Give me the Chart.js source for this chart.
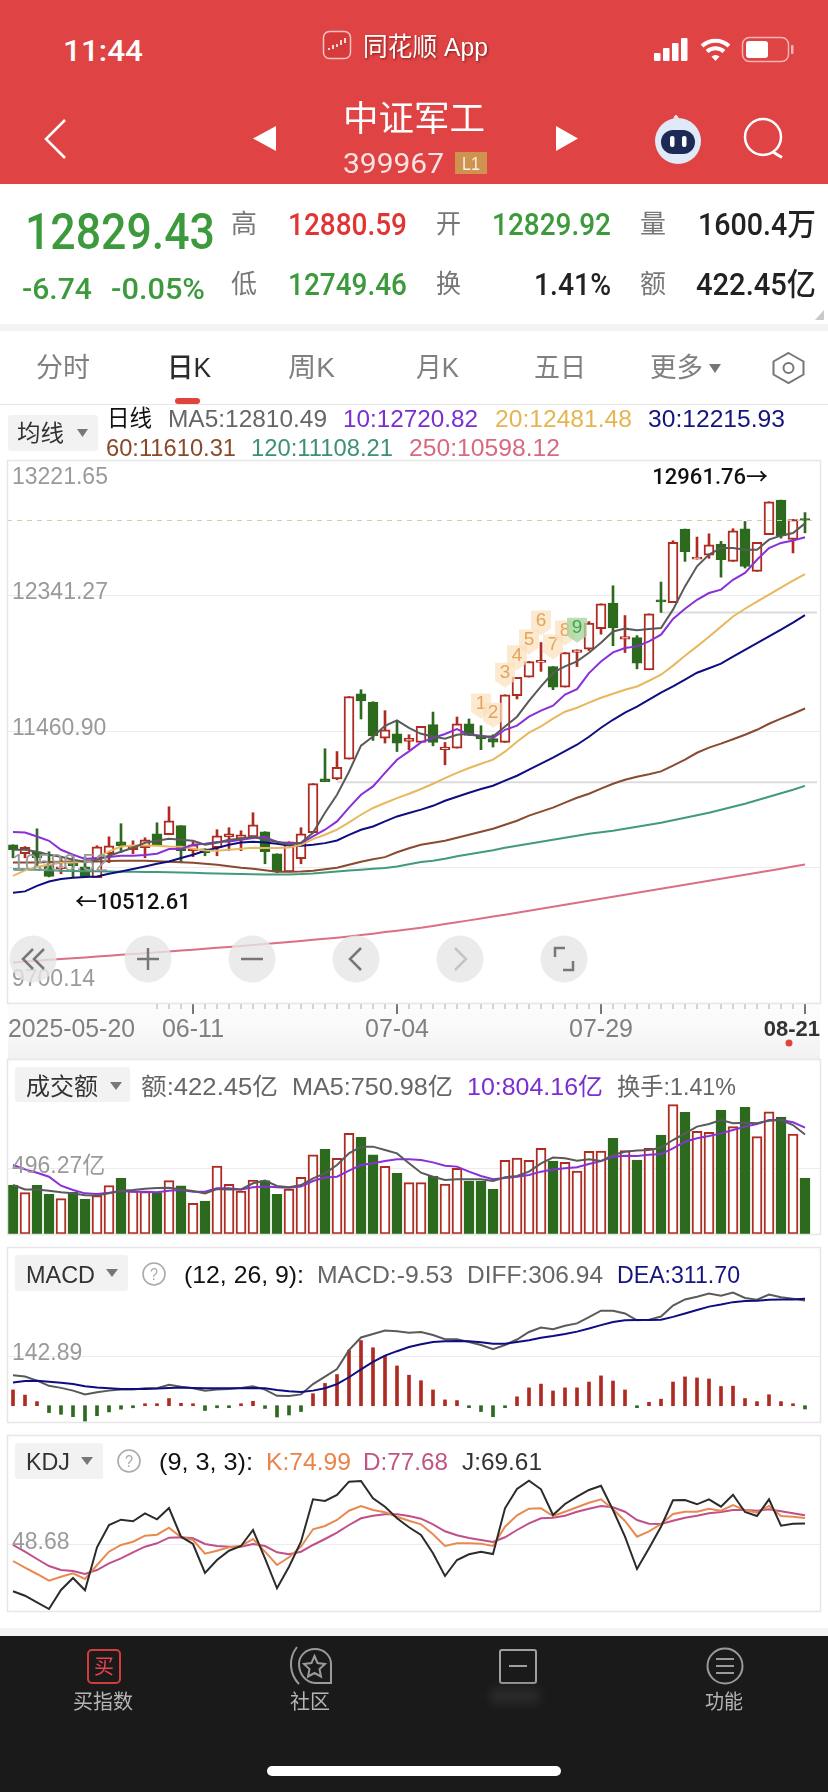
<!DOCTYPE html>
<html lang="zh-CN">
<head>
<meta charset="utf-8">
<title>中证军工</title>
<script src="https://cdn.jsdelivr.net/npm/chart.js"></script>
<style>
  html, body { margin: 0; padding: 0; background: #fff; }
  body { position: relative; width: 828px; height: 1792px; overflow: hidden; }
  .pane { position: absolute; left: 0; width: 821px; overflow: hidden; }
  canvas { display: block; }
  #band { position: absolute; left: 8px; top: 1003px; width: 812px; height: 56px;
          background: linear-gradient(#fcfcfc, #fafafa 40%, #f1f1f1); }
  #ui { position: absolute; left: 0; top: 0; }
</style>
</head>
<body>
<div id="band"></div>
<div class="pane" style="top:460px;height:590px"><canvas id="mainChart" width="823" height="590"></canvas></div>
<div class="pane" style="top:1059px;height:175px"><canvas id="volChart" width="823" height="175"></canvas></div>
<div class="pane" style="top:1247px;height:175px"><canvas id="macdChart" width="823" height="175"></canvas></div>
<div class="pane" style="top:1435px;height:176px"><canvas id="kdjChart" width="823" height="176"></canvas></div>
<svg id="ui" width="828" height="1792" xmlns="http://www.w3.org/2000/svg"></svg>
<script>
// 日期 (trading days)
const categories = ['2025-05-20','05-21','05-22','05-23','05-26','05-27','05-28','05-29','05-30',
  '06-03','06-04','06-05','06-06','06-09','06-10','06-11','06-12','06-13','06-16','06-17','06-18','06-19','06-20',
  '06-23','06-24','06-25','06-26','06-27','06-30','07-01','07-02','07-03','07-04','07-07','07-08','07-09','07-10','07-11',
  '07-14','07-15','07-16','07-17','07-18','07-21','07-22','07-23','07-24','07-25','07-28','07-29','07-30','07-31','08-01',
  '08-04','08-05','08-06','08-07','08-08','08-11','08-12','08-13','08-14','08-15','08-18','08-19','08-20','08-21',''];
const shownDates = ['2025-05-20','06-11','07-04','07-29','08-21'];

const opens = [10726,10668,10681,10597,10571,10610,10584,10513,10668,10746,
  10694,10707,10798,10791,10850,10688,10700,10707,10778,10765,
  10778,10811,10668,10551,10636,10804,11154,11154,11282,11706,
  11652,11418,11446,11396,11390,11505,11343,11353,11511,11433,
  11415,11390,11693,11814,11909,11882,11749,11973,11995,12127,
  12294,12060,12070,11861,12315,12297,12774,12579,12605,12677,
  12564,12776,12499,12737,12961,12706,12829.92];
const highs = [10726,10715,10830,10681,10649,10655,10649,10720,10778,10863,
  10752,10772,10869,10973,10850,10746,10700,10824,10837,10817,
  10934,10811,10668,10746,10837,11123,11349,11331,11688,11732,
  11654,11596,11533,11440,11494,11587,11390,11555,11542,11498,
  11440,11699,11812,11915,12038,11882,11973,11991,12174,12289,
  12406,12213,12083,12224,12430,12698,12774,12722,12743,12694,
  12776,12823,12687,12951,12961.76,12836,12880.59];
const lows = [10642,10642,10584,10518,10538,10512.61,10519,10513,10610,10675,
  10668,10642,10726,10791,10610,10649,10655,10655,10688,10688,
  10778,10603,10545,10551,10603,10804,11135,11148,11282,11542,
  11403,11386,11331,11343,11390,11368,11245,11353,11435,11343,
  11360,11390,11672,11814,11851,11732,11749,11882,11986,12092,
  12017,11973,11867,11861,12233,12297,12564,12579,12584,12462,
  12564,12521,12499,12737,12715,12619,12749.46];
const closes = [10694,10709,10642,10521,10584,10590,10519,10713,10720,10720,
  10720,10759,10726,10882,10688,10726,10675,10785,10798,10791,
  10856,10681,10558,10746,10798,11123,11135,11228,11688,11660,
  11433,11472,11386,11418,11494,11390,11360,11511,11435,11413,
  11392,11699,11812,11915,11920,11749,11973,11991,12164,12289,
  12132,12077,11904,12224,12302,12687,12627,12592,12672,12575,
  12763,12531,12687,12951,12730,12836,12829.43];

const ma5 = [10694,10694,10681,10662,10649,10629,10616,10629,10655,10681,
  10707,10739,10752,10765,10759,10752,10726,10739,10759,10765,
  10778,10759,10746,10726,10739,10804,10934,11051,11200,11369,
  11429,11498,11533,11485,11446,11429,11414,11440,11446,11429,
  11429,11494,11557,11660,11753,11842,11883,11916,11972,12037,
  12110,12128,12117,12126,12132,12251,12402,12532,12608,12651,
  12651,12640,12640,12705,12731,12748,12810.49];
const ma10 = [10809,10806,10780,10752,10694,10662,10634,10640,10647,10655,
  10655,10660,10668,10699,10700,10726,10733,10744,10748,10759,
  10770,10776,10744,10737,10737,10780,10824,10878,10967,11051,
  11105,11193,11278,11332,11390,11419,11445,11477,11440,11433,
  11419,11472,11499,11557,11596,11628,11700,11736,11840,11915,
  11974,12002,12013,12045,12089,12191,12257,12315,12359,12381,
  12445,12489,12575,12651,12684,12699,12720.82];
const ma20 = [10525,10560,10584,10597,10610,10612,10618,10642,10683,10715,
  10722,10722,10720,10715,10713,10700,10689,10687,10694,10700,
  10707,10705,10705,10709,10726,10763,10791,10824,10871,10921,
  10965,10997,11029,11057,11088,11122,11159,11193,11224,11252,
  11278,11330,11395,11453,11494,11544,11589,11615,11648,11680,
  11706,11732,11753,11790,11829,11888,11952,12013,12076,12141,
  12207,12257,12303,12348,12394,12439,12481.48];
const ma30 = [10415,10424,10460,10488,10504,10512,10517,10521,10538,10553,
  10569,10586,10603,10618,10640,10662,10687,10705,10726,10741,
  10746,10741,10733,10722,10720,10726,10737,10754,10791,10824,
  10845,10878,10910,10932,10954,10979,11012,11038,11064,11088,
  11109,11142,11174,11213,11252,11291,11333,11375,11427,11485,
  11537,11583,11622,11667,11713,11753,11797,11842,11871,11901,
  11946,11991,12034,12078,12121,12167,12215.93];
const ma60 = [10612,10612,10612,10614,10616,10617,10618,10618,10621,10623,
  10623,10623,10620,10616,10613,10610,10603,10597,10587,10577,
  10571,10561,10551,10551,10553,10558,10568,10577,10597,10616,
  10632,10646,10678,10704,10726,10739,10752,10772,10791,10811,
  10830,10856,10882,10915,10941,10967,11000,11031,11057,11090,
  11122,11148,11168,11184,11202,11239,11278,11323,11356,11382,
  11411,11440,11472,11511,11544,11576,11610.31];
const ma120 = [10569,10567,10565,10561,10558,10557,10555,10554,10553,10551,
  10551,10550,10549,10548,10547,10545,10542,10540,10538,10536,
  10535,10534,10534,10534,10536,10540,10546,10553,10559,10565,
  10570,10575,10586,10600,10614,10623,10636,10652,10665,10678,
  10691,10707,10720,10733,10746,10759,10772,10785,10798,10808,
  10817,10830,10843,10856,10869,10885,10901,10918,10934,10953,
  10973,10992,11015,11038,11060,11083,11108.21];
const ma250 = [9963,9969,9974,9980,9985,9991,9996,10002,10007,10013,
  10018,10023,10029,10034,10040,10046,10052,10058,10064,10070,
  10076,10082,10089,10096,10103,10110,10117,10124,10132,10141,
  10150,10160,10169,10178,10188,10200,10212,10224,10236,10248,
  10261,10273,10285,10298,10311,10324,10337,10350,10363,10376,
  10389,10402,10415,10428,10441,10454,10467,10480,10493,10506,
  10519,10532,10545,10558,10571,10585,10598.12];

// 水平压力线 and 九转 markers
const levelValues = [11131, 12233];
const levelStarts = [27, 54];
const nineIndex = [39,40,41,42,43,44,45,46,47];
const nineLabels = ['1','2','3','4','5','6','7','8','9'];

const priceTicks = [13221.65, 12341.27, 11460.90, 10580.52, 9700.14];
const priceTickLabels = ['13221.65','12341.27','11460.90','10580.52','9700.14'];

// 成交额 (亿)
const amount = [370,312,368,300,267,315,264,290,365,420,
  327,320,312,403,363,232,249,514,375,325,
  408,403,300,340,428,599,640,572,760,730,
  599,511,458,388,388,438,378,496,400,400,
  337,556,574,556,647,551,541,476,624,627,
  723,630,559,647,748,977,919,776,768,934,
  811,957,735,922,884,755,422.45];
const amountMa5 = [370,337,337,327,315,307,292,290,307,327,
  332,342,347,350,337,325,307,340,337,337,
  383,403,363,353,370,420,458,521,609,660,
  660,635,609,534,463,433,408,413,413,413,
  400,428,438,471,534,577,572,554,564,551,
  597,622,630,635,652,710,760,811,831,861,
  836,841,836,856,861,823,750.98];
const amountMa10 = [521,488,463,433,365,332,307,302,312,325,
  320,320,315,327,332,320,320,345,345,337,
  353,358,353,350,358,400,426,433,478,521,
  534,551,564,564,559,541,516,509,471,438,
  413,423,433,446,471,488,496,504,529,551,
  584,592,589,599,604,647,697,723,740,760,
  786,811,831,861,861,844,804.16];

const macdBars = [46,31,12,-20,-25,-32,-45,-29,-18,-10,
  -6,4,3,21,7,1,-14,-6,-1,5,
  13,-8,-33,-27,-17,35,65,91,162,190,
  169,145,116,89,73,46,17,15,-1,-17,
  -32,-4,26,52,63,43,52,52,69,87,
  72,46,-1,10,19,69,84,81,78,56,
  57,21,12,32,12,4,-9.53];
const diffLine = [89,85,73,58,52,44,33,39,44,47,
  47,51,51,61,55,51,44,47,49,52,
  57,47,29,28,33,63,85,107,162,199,
  209,219,217,213,215,206,194,194,186,177,
  165,177,193,215,228,223,233,240,258,277,
  277,269,249,251,260,292,310,318,327,321,
  330,314,309,324,316,312,306.94];
const deaLine = [68,72,73,70,67,63,57,53,51,49,
  49,49,50,52,53,52,51,51,51,51,
  52,51,46,42,40,44,51,63,83,106,
  128,146,159,171,179,186,188,189,188,185,
  181,181,186,191,198,203,209,216,225,235,
  244,249,250,250,251,259,269,279,289,295,
  302,305,306,309,310,310,311.70];

const kLine = [32,25.3,19,12.3,16.3,19.7,14,28,41.3,48,
  51.3,57.3,58.3,65.3,55.7,53,39.3,42.3,45.7,47,
  54,41.3,28,35.7,46.3,63.7,67,73,82.3,87,
  83,80.7,76.3,72.3,68.7,58.7,47,49.7,49.7,49.3,
  47,66.3,77.7,84.3,84.7,77,81.3,85.7,90.3,93.7,
  83.7,72,56.3,61.7,69,79,81.3,81.3,84.3,82.3,
  88,83,80.3,87,77,76.3,74.99];
const dLine = [48,41.3,34,27,23,22,19,23,29.7,34.7,
  40.7,46.3,49.7,55.3,55.7,54.7,49,47,46.3,46.3,
  49,47,40.7,38.7,41.3,48,54,60.3,68,74.7,
  77.3,78.7,78.7,77,74.3,68.7,61.7,57.7,55,53,
  51,55.7,63,69.7,74.7,75.3,77.3,81.3,84.3,87,
  85.7,81.3,73,69.3,69,72.3,75.3,77.3,79.7,81,
  83,83,82.3,83.7,81.7,79.7,77.68];
const jLine = [1.7,-2.7,-9.3,-16,3,15,2.7,45.7,68,73.3,
  71.7,79.7,73.7,85,56.3,49,20,33,42.3,47,
  63,34.7,4.7,26.3,51.3,93.7,92,98,111.3,112,
  94.7,86.3,74.7,65.7,58,39.7,17,33,38.7,41.3,
  39,84.7,104,112.3,103.7,78,89,96.3,103,107.3,
  83,56.3,24,44.7,66.3,92.7,93,88.7,93.7,86.3,
  98.3,81,77,93.7,67.3,69.3,69.61];

const RED = '#ae2b22', GREEN = '#2c6a1e', GRID = '#ececec';
const FONT = '"Liberation Sans","Noto Sans CJK SC",sans-serif';
const isUp = opens.map((o, i) => closes[i] >= o);

function lineSet(data, color, order, width) {
  return { type: 'line', data, borderColor: color, borderWidth: width || 2, pointRadius: 0, tension: 0, order, spanGaps: false };
}

// y tick labels sit inside the pane, nudged off their grid line
function axisLabels(values, labels, offsets, size) {
  return {
    id: 'axisLabels',
    afterDatasetsDraw(chart) {
      const c = chart.ctx, y = chart.scales.y;
      c.save();
      c.font = size + 'px ' + FONT;
      c.fillStyle = '#9a9a9a';
      c.textBaseline = 'middle';
      values.forEach((v, i) => c.fillText(labels[i], 12, y.getPixelForValue(v) + offsets[i]));
      c.restore();
    }
  };
}

function paneOptions(yMin, yMax, gridValues, bottomPad) {
  return {
    responsive: false,
    animation: false,
    events: [],
    layout: { padding: { left: 7, right: 0, top: 0, bottom: bottomPad || 0 } },
    plugins: { legend: { display: false }, tooltip: { enabled: false } },
    scales: {
      x: { type: 'category', offset: true, display: false, grid: { display: false } },
      y: {
        min: yMin, max: yMax, position: 'left',
        afterBuildTicks(s) { s.ticks = gridValues.map(v => ({ value: v })); },
        ticks: { display: false },
        grid: { color: GRID, drawTicks: false, lineWidth: 1 },
        border: { display: false }
      }
    }
  };
}

const mainExtras = {
  id: 'mainExtras',
  afterDatasetsDraw(chart) {
    const c = chart.ctx, x = chart.scales.x, y = chart.scales.y, area = chart.chartArea;
    c.save();
    // 收盘 dashed line
    const py = y.getPixelForValue(closes[closes.length - 1]);
    c.strokeStyle = '#cfcfa6'; c.lineWidth = 1; c.setLineDash([5, 5]);
    c.beginPath(); c.moveTo(area.left, py); c.lineTo(817, py); c.stroke();
    c.setLineDash([]);

    // 九转 tags
    nineIndex.forEach((idx, n) => {
      const px = x.getPixelForValue(idx), hy = y.getPixelForValue(highs[idx]);
      const cy = hy - 21, green = n === 8;
      c.fillStyle = green ? 'rgba(170,215,160,.8)' : 'rgba(250,224,190,.72)';
      c.beginPath();
      c.moveTo(px - 10, cy - 11); c.lineTo(px + 10, cy - 11); c.lineTo(px + 10, cy + 7);
      c.lineTo(px, cy + 14); c.lineTo(px - 10, cy + 7); c.closePath(); c.fill();
      c.fillStyle = green ? '#3aa84a' : '#e6a45a';
      c.font = '19px ' + FONT; c.textAlign = 'center'; c.textBaseline = 'middle';
      c.fillText(nineLabels[n], px, cy - 1);
    });

    // 最高 / 最低 markers
    c.fillStyle = '#111'; c.font = '500 22px Roboto,"Noto Sans CJK SC"'; c.textBaseline = 'middle';
    const hi = highs.indexOf(Math.max(...highs)), lo = lows.indexOf(Math.min(...lows));
    c.textAlign = 'right';
    c.fillText(highs[hi].toFixed(2) + '→', x.getPixelForValue(hi) - 13, y.getPixelForValue(highs[hi]) - 22);
    c.textAlign = 'left';
    c.fillText('←' + lows[lo].toFixed(2), x.getPixelForValue(lo) + 2, y.getPixelForValue(lows[lo]) + 26);

    // date axis under the pane
    const base = area.bottom;
    categories.slice(12, 67).forEach((_, k) => {
      const i = k + 12, major = shownDates.includes(categories[i]);
      c.strokeStyle = major ? '#777' : '#a8a8a8';
      c.lineWidth = major ? 2 : 1;
      const tx = Math.round(x.getPixelForValue(i));
      c.beginPath(); c.moveTo(tx, base); c.lineTo(tx, base + (major ? 11 : 6)); c.stroke();
    });
    c.font = '25px ' + FONT; c.fillStyle = '#808080';
    shownDates.forEach((d, n) => {
      const px = x.getPixelForValue(categories.indexOf(d));
      if (n === 0) { c.textAlign = 'left'; c.fillText(d, 8, base + 27, 127); }
      else if (n === shownDates.length - 1) {
        c.textAlign = 'right'; c.fillStyle = '#333'; c.font = 'bold 22px ' + FONT;
        c.fillText(d, 820, base + 27, 62);
      } else { c.textAlign = 'center'; c.fillText(d, px, base + 27); }
    });
    c.restore();
  }
};

const levelSets = levelValues.map((v, n) =>
  lineSet(categories.map((_, i) => (i >= levelStarts[n] ? v : null)), '#dcdcdc', 30));

new Chart(document.getElementById('mainChart'), {
  type: 'bar',
  data: {
    labels: categories,
    datasets: [
      ...levelSets,
      { label: 'wick', data: lows.map((l, i) => [l, highs[i]]), grouped: false, barThickness: 2, order: 25,
        backgroundColor: isUp.map(u => (u ? RED : GREEN)), borderWidth: 0 },
      { label: 'body', data: opens.map((o, i) => [o, closes[i]]), grouped: false, barThickness: 10, order: 20,
        minBarLength: 2,
        backgroundColor: isUp.map(u => (u ? '#fff' : GREEN)),
        borderColor: isUp.map(u => (u ? RED : GREEN)), borderWidth: 2, borderSkipped: false },
      lineSet(ma250, '#dd6f85', 7),
      lineSet(ma120, '#429a7e', 6),
      lineSet(ma60, '#8a4a30', 5),
      lineSet(ma30, '#0e0e82', 4),
      lineSet(ma20, '#e8b85e', 3),
      lineSet(ma10, '#8a30d8', 2),
      lineSet(ma5, '#5a5a5a', 1)
    ]
  },
  options: paneOptions(9700.14, 13221.65, priceTicks, 47),
  plugins: [axisLabels(priceTicks, priceTickLabels, [18, -3, -3, -3, -23], 23), mainExtras]
});

new Chart(document.getElementById('volChart'), {
  type: 'bar',
  data: {
    labels: categories,
    datasets: [
      { data: amount, barThickness: 10, order: 10,
        backgroundColor: isUp.map(u => (u ? '#fff' : GREEN)),
        borderColor: isUp.map(u => (u ? RED : GREEN)), borderWidth: 2, borderSkipped: false },
      lineSet(amountMa10, '#8a30d8', 2),
      lineSet(amountMa5, '#5a5a5a', 1)
    ]
  },
  options: paneOptions(0, 1322, [496.27]),
  plugins: [axisLabels([496.27], ['496.27亿'], [-2], 23)]
});

new Chart(document.getElementById('macdChart'), {
  type: 'bar',
  data: {
    labels: categories,
    datasets: [
      { data: macdBars, barThickness: 3, order: 10, minBarLength: 2,
        backgroundColor: macdBars.map(v => (v >= 0 ? RED : GREEN)) },
      lineSet(deaLine, '#0e0e82', 1),
      lineSet(diffLine, '#5a5a5a', 2)
    ]
  },
  options: paneOptions(-47.5, 462.8, [142.89]),
  plugins: [axisLabels([142.89], ['142.89'], [-3], 23)]
});

new Chart(document.getElementById('kdjChart'), {
  type: 'line',
  data: {
    labels: categories,
    datasets: [
      lineSet(dLine, '#c0508a', 3),
      lineSet(kLine, '#e88a50', 2),
      lineSet(jLine, '#2b2b2b', 1)
    ]
  },
  options: paneOptions(-18, 158, [48.68]),
  plugins: [axisLabels([48.68], ['48.68'], [-2], 23)]
});

// ---- page chrome around the charts ----
const ui = document.getElementById('ui');
let svg = '';
function rect(x, y, w, h, fill, rx, extra) {
  svg += `<rect x="${x}" y="${y}" width="${w}" height="${h}" fill="${fill}" rx="${rx || 0}" ${extra || ''}/>`;
}
function txt(s, x0, x1, cy, size, fill, opts) {
  const o = opts || {};
  svg += `<text x="${x0}" y="${cy}" textLength="${x1 - x0}" lengthAdjust="spacingAndGlyphs" dominant-baseline="central" ` +
    `font-family='${o.family || FONT}' font-size="${size}" font-weight="${o.weight || 400}" fill="${fill}" ${o.extra || ''}>${s}</text>`;
}
function tri(x, y, w, h) { // small ▾
  svg += `<path d="M${x} ${y}h${w}l${-w / 2} ${h}z" fill="#777"/>`;
}
const ROB = '"Roboto","Noto Sans CJK SC",sans-serif';

// top bar
rect(0, 0, 828, 184, '#df4343');
txt('11:44', 63, 143, 50, 30, '#fff', { family: ROB, weight: 500 });
rect(323.5, 31.5, 27, 27, '#d73a3a', 6, 'stroke="#f3c4c4" stroke-width="1.5"');
svg += '<path d="M329 50v-2M333 49v-4M337 47v-3M341 45v-5M345 43v-5" stroke="#fff" stroke-width="1.6"/>';
txt('同花顺 App', 363, 488, 47, 26, '#fff', { extra: 'style="filter:drop-shadow(1px 1px 1px rgba(60,0,0,.55))"' });
[[654, 8], [663, 13], [672, 18], [681, 23]].forEach(b => rect(b[0], 61 - b[1], 6.5, b[1], '#fff', 1));
svg += '<path d="M702 46a20 20 0 0 1 27 0M707 51.5a13 13 0 0 1 17 0" fill="none" stroke="#fff" stroke-width="4"/><path d="M711.5 56.5a6 6 0 0 1 8 0l-4 4.5z" fill="#fff"/>';
rect(742.5, 37.5, 46, 24, 'none', 7, 'stroke="#f4b4b4" stroke-width="1.5"');
rect(746, 41, 22, 17, '#fff', 3);
rect(791, 45, 2.5, 9, '#f4b4b4', 1);
svg += '<path d="M65 120L46 139L65 158" fill="none" stroke="#fff" stroke-width="2.5"/>';
svg += '<path d="M276 126v25l-23-12.5zM556 126v25l22-12.5z" fill="#fff"/>';
txt('中证军工', 343, 485, 118, 35, '#fff');
txt('399967', 343, 444, 163, 28, '#f7e3e3', { family: ROB });
rect(455, 152, 32, 22, '#cf9350');
txt('L1', 462, 480, 163, 19, '#f8efe0');
svg += '<circle cx="678" cy="141" r="23" fill="#dfe9f8"/><rect x="661" y="130" width="34" height="24" rx="12" fill="#1d2a55"/><rect x="670" y="136" width="4.5" height="11" rx="2" fill="#fff"/><rect x="682" y="136" width="4.5" height="11" rx="2" fill="#fff"/><path d="M676 119v-4" stroke="#f3dede" stroke-width="2"/><circle cx="676" cy="118" r="2.5" fill="#f3dede"/>';
svg += '<circle cx="763" cy="137" r="18" fill="none" stroke="#fff" stroke-width="2.5"/><path d="M773 152l9 5.5" stroke="#fff" stroke-width="3"/>';

// quote block
txt('12829.43', 25, 215, 232, 50, '#3c9a3c', { family: ROB, weight: 500 });
txt('-6.74', 22, 92, 289, 29, '#3c9a3c', { family: ROB, weight: 500 });
txt('-0.05%', 111, 205, 289, 29, '#3c9a3c', { family: ROB, weight: 500 });
txt('高', 231, 257, 224, 26, '#777'); txt('低', 231, 257, 284, 26, '#777');
txt('开', 436, 461, 224, 26, '#777'); txt('换', 436, 461, 284, 26, '#777');
txt('量', 640, 666, 224, 26, '#777'); txt('额', 640, 666, 284, 26, '#777');
txt('12880.59', 288, 407, 224, 31, '#e03535', { family: ROB, weight: 500 });
txt('12749.46', 288, 407, 284, 31, '#3c9a3c', { family: ROB, weight: 500 });
txt('12829.92', 492, 611, 224, 31, '#3c9a3c', { family: ROB, weight: 500 });
txt('1.41%', 534, 611, 284, 31, '#222', { family: ROB, weight: 500 });
txt('1600.4万', 698, 816, 224, 31, '#222', { family: ROB, weight: 500 });
txt('422.45亿', 696, 816, 284, 31, '#222', { family: ROB, weight: 500 });
svg += '<path d="M824 310v10h-9z" fill="#c9c9c9"/>';
rect(0, 324, 828, 7, '#f3f3f3');

// tabs
txt('分时', 36, 90, 368, 27, '#808080');
txt('日K', 167, 211, 368, 27, '#2b2b2b', { weight: 500 });
txt('周K', 288, 335, 368, 27, '#808080');
txt('月K', 416, 459, 368, 27, '#808080');
txt('五日', 534, 586, 368, 27, '#808080');
txt('更多', 650, 703, 368, 27, '#808080');
tri(709, 364, 12, 9);
svg += '<path d="M788.500 353l15 8.500v13l-15 8.500l-15-8.500v-13z" fill="none" stroke="#777" stroke-width="2"/><circle cx="788.500" cy="368" r="5" fill="none" stroke="#777" stroke-width="2"/>';
rect(175, 398, 25, 6, '#e0443a', 3);
rect(0, 404, 828, 1, '#e6e6e6');

// MA legend
rect(8, 415, 90, 36, '#f2f2f2', 3);
txt('均线', 17, 64, 433, 23, '#333');
tri(77, 429, 11, 8);
txt('日线', 107, 152, 418, 23, '#111');
txt('MA5:12810.49', 168, 327, 418, 24, '#666');
txt('10:12720.82', 343, 478, 418, 24, '#7b2fd0');
txt('20:12481.48', 495, 632, 418, 24, '#e6b450');
txt('30:12215.93', 648, 785, 418, 24, '#14147e');
txt('60:11610.31', 106, 236, 447, 24, '#8a4a2a');
txt('120:11108.21', 251, 393, 447, 24, '#3c9078');
txt('250:10598.12', 409, 560, 447, 24, '#d86a80');

// pane frames
[[460, 543], [1059, 175], [1247, 175], [1435, 176]].forEach(p =>
  rect(7.5, p[0] + 0.5, 813, p[1], 'none', 0, 'stroke="#e6e6e6" stroke-width="1.5"'));

// zoom buttons over the price pane
[33, 148, 252, 356, 460, 564].forEach(cx => {
  svg += `<circle cx="${cx}" cy="959" r="23.5" fill="#e6e6e6" fill-opacity=".8"/>`;
});
svg += '<g fill="none" stroke="#777" stroke-width="2.5">' +
  '<path d="M33 949l-10 10l10 10M44 949l-10 10l10 10"/>' +
  '<path d="M137 959h22M148 948v22"/>' +
  '<path d="M241 959h22"/>' +
  '<path d="M361 948l-11 11l11 11"/>' +
  '<path d="M455 948l11 11l-11 11" stroke="#c4c4c4"/>' +
  '<path d="M555 957v-9h10M573 961v9h-10"/></g>';
svg += '<circle cx="789" cy="1043" r="3.5" fill="#e0443a"/>';

// amount pane header
rect(15, 1067, 115, 35, '#f2f2f2', 3);
txt('成交额', 26, 98, 1086, 24, '#333');
tri(110, 1082, 12, 8);
txt('额:422.45亿', 141, 278, 1086, 24, '#666');
txt('MA5:750.98亿', 292, 453, 1086, 24, '#666');
txt('10:804.16亿', 467, 603, 1086, 24, '#7b2fd0');
txt('换手:1.41%', 617, 736, 1086, 24, '#666');

// MACD header
rect(15, 1255, 113, 36, '#f2f2f2', 3);
txt('MACD', 26, 95, 1274, 24, '#333');
tri(106, 1269, 12, 8);
svg += '<circle cx="154" cy="1274" r="11" fill="none" stroke="#aaa" stroke-width="1.6"/>';
txt('?', 150, 158, 1274, 16, '#aaa');
txt('(12, 26, 9):', 184, 304, 1274, 24, '#111');
txt('MACD:-9.53', 317, 453, 1274, 24, '#666');
txt('DIFF:306.94', 467, 603, 1274, 24, '#666');
txt('DEA:311.70', 617, 740, 1274, 24, '#14147e');

// KDJ header
rect(15, 1443, 88, 36, '#f2f2f2', 3);
txt('KDJ', 26, 70, 1461, 24, '#333');
tri(81, 1457, 12, 8);
svg += '<circle cx="129" cy="1461" r="11" fill="none" stroke="#aaa" stroke-width="1.6"/>';
txt('?', 125, 133, 1461, 16, '#aaa');
txt('(9, 3, 3):', 159, 253, 1461, 24, '#111');
txt('K:74.99', 266, 351, 1461, 24, '#e8844a');
txt('D:77.68', 363, 448, 1461, 24, '#c05585');
txt('J:69.61', 462, 542, 1461, 24, '#333');

// bottom tab bar
rect(0, 1628, 828, 8, '#f4f4f4');
rect(0, 1636, 828, 156, '#1a1a1a');
rect(88, 1650, 32, 33, 'none', 4, 'stroke="#d43c3c" stroke-width="2"');
txt('买', 94, 114, 1667, 20, '#e8424a');
txt('买指数', 73, 133, 1702, 20, '#b5b5b5');
svg += '<g fill="none" stroke="#9a9a9a" stroke-width="2"><path d="M297 1647a28 28 0 0 0 2 37"/><path d="M331 1683v-19a16 15 0 0 0 -32 0a17 19 0 0 0 16 19z"/><path d="M314.500 1656l3 7l7.500 1l-5.500 5l1.500 7.500l-6.500 -3.500l-6.500 3.500l1.500 -7.500l-5.500 -5l7.500 -1z"/></g>';
txt('社区', 290, 330, 1702, 20, '#b5b5b5');
rect(500, 1650, 36, 33, 'none', 2, 'stroke="#a0a0a0" stroke-width="2"');
rect(509, 1665, 18, 2, '#a0a0a0');
rect(490, 1688, 50, 16, '#2a2a2a', 4, 'style="filter:blur(5px)"');
svg += '<g fill="none" stroke="#9a9a9a" stroke-width="2"><ellipse cx="725" cy="1666" rx="17.500" ry="17.500"/><path d="M716 1659h18M716 1666h18M716 1673h18"/></g>';
txt('功能', 705, 743, 1702, 20, '#b5b5b5');
rect(267, 1766, 294, 10, '#fff', 5);

ui.innerHTML = svg;
</script>
</body>
</html>
